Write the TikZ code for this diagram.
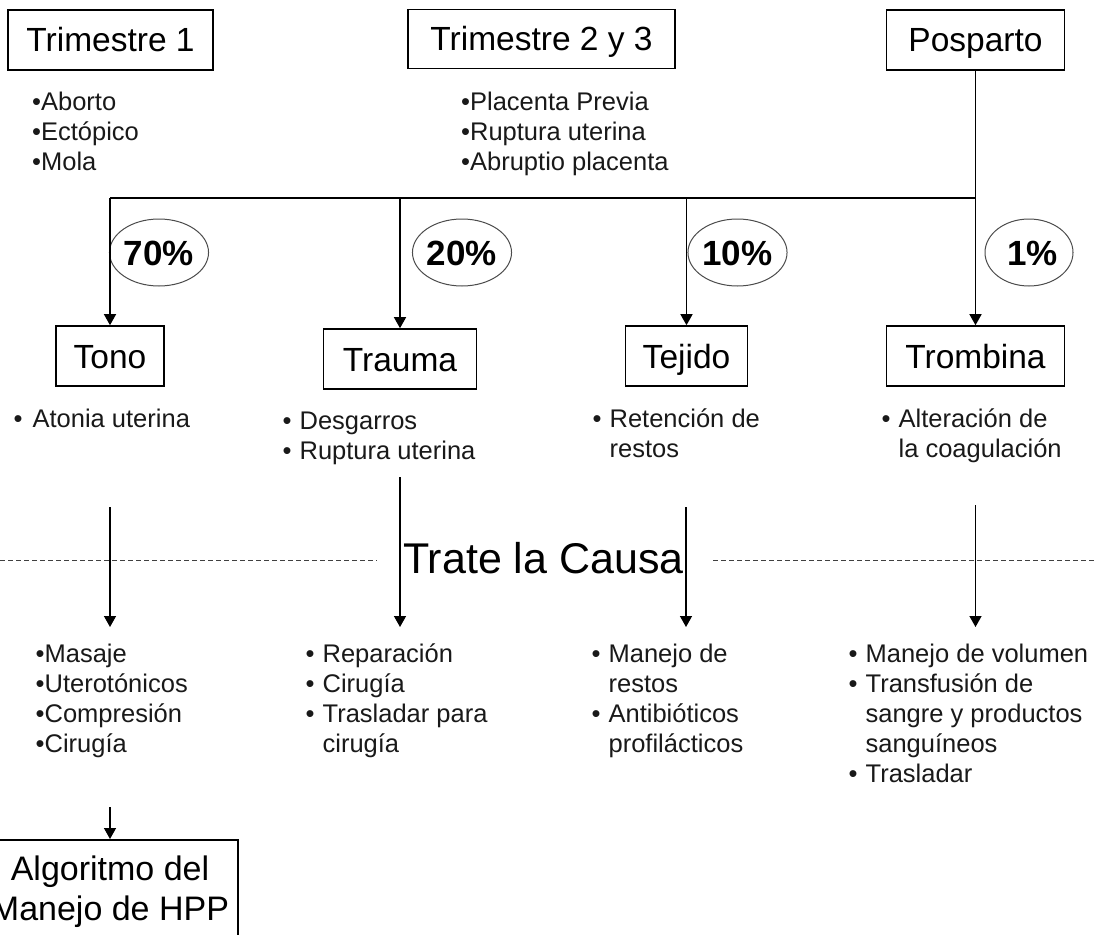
\documentclass[tikz,border=0pt]{standalone}
\usepackage{fontspec}
\setmainfont{Liberation Sans}
\usetikzlibrary{arrows.meta,shapes.geometric}
\tikzset{
  box/.style={draw=black, line width=1.6pt, inner sep=0pt, minimum height=60pt,
    font=\fontsize{33.5}{40}\selectfont, text height=24pt, text depth=0pt},
  pct/.style={ellipse, draw=black!70, line width=1pt, minimum width=86pt, minimum height=67pt,
    inner sep=0pt, font=\fontsize{35}{40}\selectfont\bfseries, text height=25pt, text depth=0pt},
  arr/.style={draw=black, line width=1.4pt, -{Triangle[width=12pt,length=11pt]}},
  barline/.style={draw=black, line width=2.2pt},
  lst/.style={anchor=base west, inner sep=0pt, font=\fontsize{25.5}{30}\selectfont, text=black!90},
  dashline/.style={draw=black!75, line width=0.9pt, dash pattern=on 5pt off 3pt},
}
\begin{document}
\begin{tikzpicture}[x=1pt,y=-1pt]
\useasboundingbox (0,0) rectangle (1094,934);
\fill[white] (0,0) rectangle (1094,934);
\clip (0,0) rectangle (1094,934);

% top boxes
\node[box, minimum width=205pt] (t1) at (110.5,40) {Trimestre 1};
\node[box, minimum width=267pt, minimum height=59pt] (t23) at (541.5,39) {Trimestre 2 y 3};
\node[box, minimum width=178pt] (pos) at (975.5,40) {Posparto};

% top lists
\node[lst] (l1) at (32,110) {\begin{tabular}[t]{@{}l@{}}\textbullet Aborto\\\textbullet Ectópico\\\textbullet Mola\end{tabular}};
\node[lst] (l23) at (461,110) {\begin{tabular}[t]{@{}l@{}}\textbullet Placenta Previa\\\textbullet Ruptura uterina\\\textbullet Abruptio placenta\end{tabular}};

% cause boxes
\node[box, minimum width=108pt] (tono) at (110,356) {Tono};
\node[box, minimum width=153pt] (trauma) at (400,359) {Trauma};
\node[box, minimum width=122pt] (tejido) at (686.5,356) {Tejido};
\node[box, minimum width=178pt] (trombina) at (975.5,356) {Trombina};

% percentages
\node[pct] (p70) at (159,252.5) {70\%};
\node[pct] (p20) at (462,252.5) {20\%};
\node[pct, minimum width=89pt] (p10) at (737.5,252.5) {10\%};
\node[pct, minimum width=88pt] (p1) at (1029,252.5) {\hspace*{7pt}1\%};

% connectors top
\coordinate (J) at (975.5,198);
\coordinate (L) at (110,198);
\draw[arr] (pos.south) -- (trombina.north);
\draw[barline] (J) -- (L);
\draw[arr] (L) -- (tono.north);
\draw[arr] (trauma.north |- J) -- (trauma.north);
\draw[arr] (tejido.north |- J) -- (tejido.north);

% cause lists
\node[lst] (ltono) at (13.5,427) {\begin{tabular}[t]{@{}l@{\hspace{10pt}}l@{}}\textbullet & Atonia uterina\end{tabular}};
\node[lst] (ltrauma) at (282.5,429) {\begin{tabular}[t]{@{}l@{\hspace{8pt}}l@{}}\textbullet & Desgarros\\\textbullet & Ruptura uterina\end{tabular}};
\node[lst] (ltejido) at (592.5,427) {\begin{tabular}[t]{@{}l@{\hspace{8pt}}l@{}}\textbullet & Retención de\\ & restos\end{tabular}};
\node[lst] (ltromb) at (881.5,427) {\begin{tabular}[t]{@{}l@{\hspace{8pt}}l@{}}\textbullet & Alteración de\\ & la coagulación\end{tabular}};

% Trate la causa
\coordinate (dl0) at (0,560);
\coordinate (dl1) at (377,560);
\coordinate (dr0) at (713,560);
\coordinate (dr1) at (1094,560);
\draw[dashline] (dl0) -- (dl1);
\draw[dashline] (dr0) -- (dr1);
\node[anchor=base west, inner sep=0pt, font=\fontsize{43}{50}\selectfont] (trate) at (403,573) {Trate la Causa};

% second level arrows
\coordinate (a1s) at (110,507);  \coordinate (a1e) at (110,627);
\coordinate (a2s) at (400,477);  \coordinate (a2e) at (400,627);
\coordinate (a3s) at (686,507);  \coordinate (a3e) at (686,627);
\coordinate (a4s) at (975.5,505);\coordinate (a4e) at (975.5,627);
\draw[arr] (a1s) -- (a1e);
\draw[arr] (a2s) -- (a2e);
\draw[arr] (a3s) -- (a3e);
\draw[arr] (a4s) -- (a4e);

% treatment lists
\node[lst] (lmas) at (35.5,662) {\begin{tabular}[t]{@{}l@{}}\textbullet Masaje\\\textbullet Uterotónicos\\\textbullet Compresión\\\textbullet Cirugía\end{tabular}};
\node[lst] (lrep) at (305.5,662) {\begin{tabular}[t]{@{}l@{\hspace{8pt}}l@{}}\textbullet & Reparación\\\textbullet & Cirugía\\\textbullet & Trasladar para\\ & cirugía\end{tabular}};
\node[lst] (lman) at (591.5,662) {\begin{tabular}[t]{@{}l@{\hspace{8pt}}l@{}}\textbullet & Manejo de\\ & restos\\\textbullet & Antibióticos\\ & profilácticos\end{tabular}};
\node[lst] (lvol) at (848.5,662) {\begin{tabular}[t]{@{}l@{\hspace{8pt}}l@{}}\textbullet & Manejo de volumen\\\textbullet & Transfusión de\\ & sangre y productos\\ & sanguíneos\\\textbullet & Trasladar\end{tabular}};

% algorithm box
\node[draw=black, line width=1.6pt, anchor=north, minimum width=256pt, inner sep=0pt,
  font=\fontsize{34}{40}\selectfont] (alg) at (110,839)
  {\begin{tabular}{@{}c@{}}\rule{0pt}{41pt}Algoritmo del\\Manejo de HPP\rule[-40pt]{0pt}{0pt}\end{tabular}};
\coordinate (a5s) at (110,807);
\draw[arr] (a5s) -- (alg.north);
\end{tikzpicture}
\end{document}
